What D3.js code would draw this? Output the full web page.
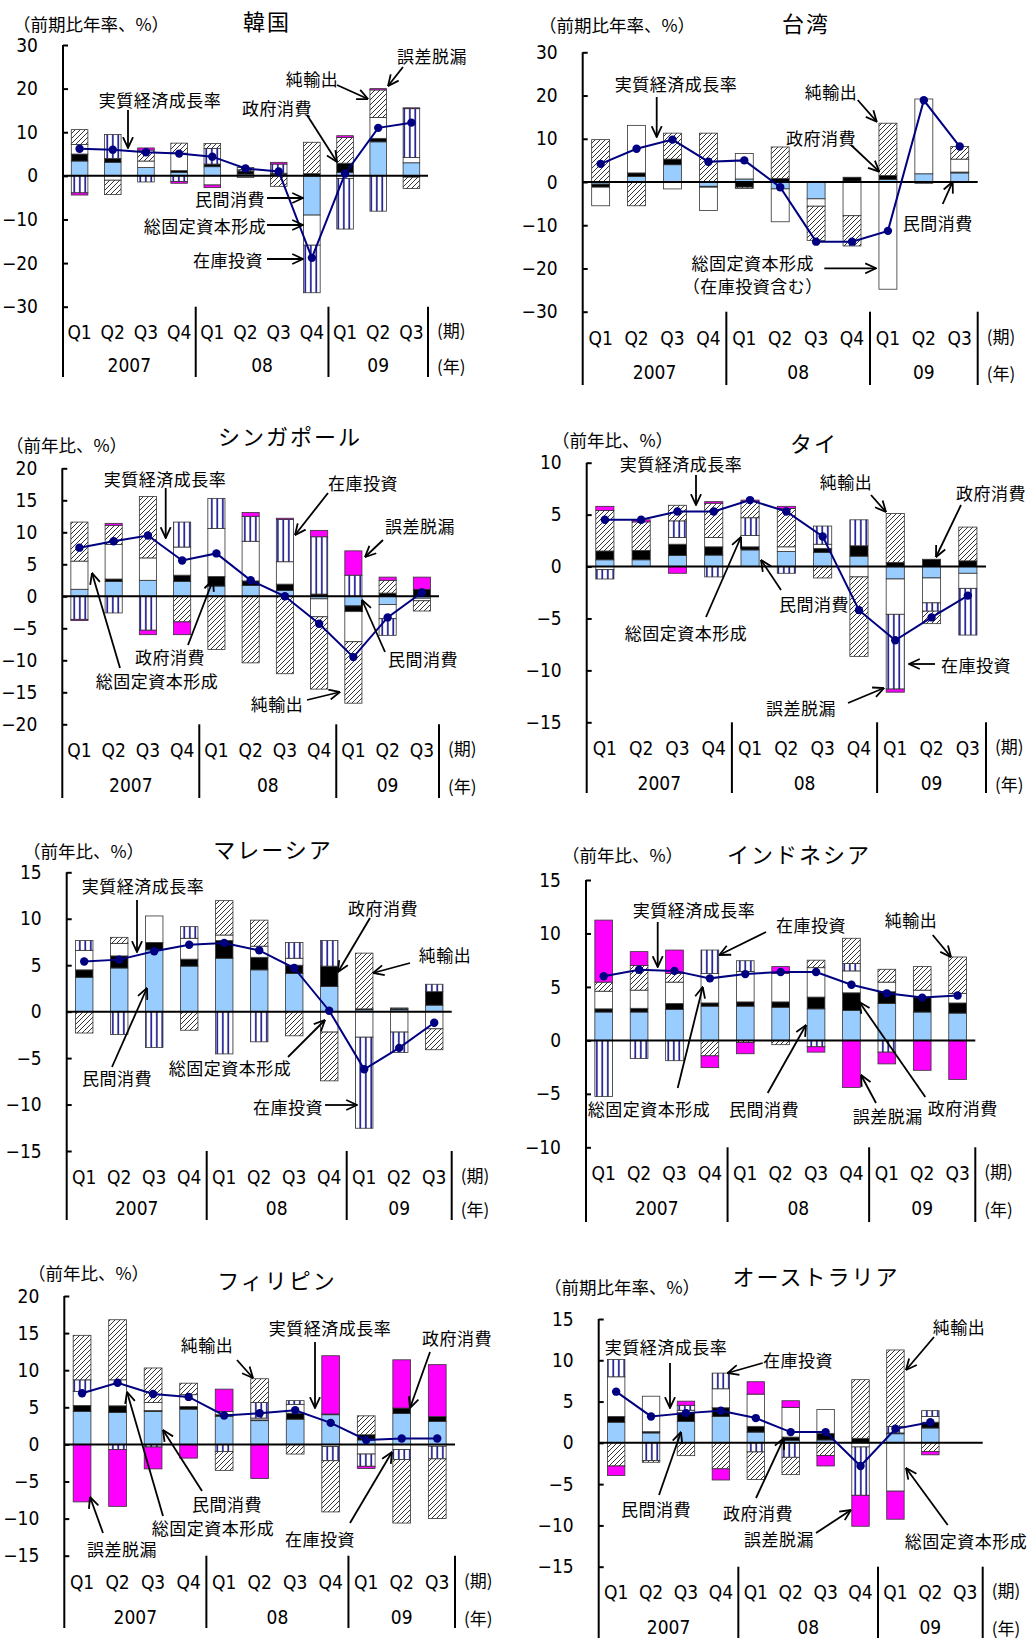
<!DOCTYPE html>
<html><head><meta charset="utf-8">
<script src="https://cdn.jsdelivr.net/npm/d3@7"></script>
<style>
body{margin:0;background:#fff;}
svg text{font-family:"Noto Sans CJK JP","Noto Sans",sans-serif;fill:#000;}
.num{font-family:"Liberation Sans Narrow","DejaVu Sans Condensed","Liberation Sans",sans-serif;}
</style></head><body>
<svg id="chart" width="1032" height="1639"></svg>
<script>
// ---- categories ----
const quarterLabels = ["Q1","Q2","Q3","Q4","Q1","Q2","Q3","Q4","Q1","Q2","Q3"];
const yearLabels = ["2007","08","09"];
const yearSpans = [4,4,3];
const seriesKeys = ["pc","gc","gfcf","inv","nx","err"];
const seriesNames = ["民間消費","政府消費","総固定資本形成","在庫投資","純輸出","誤差脱漏"];

// ---- 韓国 (前期比年率、%) ----
const KR_PC   = [3.4, 3.1, 1.9, 0.8, 2.1, 0.4, 0.3, -9.0, 0.8, 7.8, 3.0];
const KR_GC   = [1.6, 0.9, 0, 0.4, 0.6, 0.7, 0.3, 0.5, 2.1, 0.8, -0.3];
const KR_GFCF = [2.2, -1.0, 1.5, 4.0, -2.1, -0.4, 0, -6.9, -0.6, 4.8, 1.2];
const KR_INV  = [-3.9, 5.5, -1.4, -1.3, 3.6, 0.3, 2.1, -10.9, -11.6, -8.1, 11.2];
const KR_NX   = [3.4, -3.3, 2.5, 2.3, 1.1, 0.5, -2.4, 7.2, 5.9, 6.3, -2.6];
const KR_ERR  = [-0.5, 0, 0.5, -0.4, -0.6, 0, 0.4, 0, 0.4, 0.3, 0.2];
const KR_GDP  = [6.2, 6.0, 5.4, 5.1, 4.4, 1.7, 1.0, -18.8, 0.5, 11.0, 12.2];

// ---- 台湾 (前期比年率、%) ----
const TW_PC   = [-0.5, 1.3, 4.0, -1.0, 0.7, -1.6, -3.9, 0.2, 0.6, 1.9, 2.1];
const TW_GC   = [-0.7, 0.8, 1.3, -0.2, -1.2, 0.8, 0, 0.9, 0.9, 0, 0.2];
const TW_GFCF = [-4.3, 11.0, -1.6, -5.4, 5.9, -7.6, -1.7, -7.8, -24.8, 17.3, 3.0];
const TW_NX   = [9.8, -5.5, 6.0, 11.3, -0.3, 7.3, -7.9, -7.0, 12.1, -0.3, 2.9];
const TW_GDP  = [4.2, 7.7, 9.8, 4.7, 5.0, -1.2, -13.8, -13.8, -11.3, 18.9, 8.2];

// ---- シンガポール (前年比、%) ----
const SG_PC   = [1.1, 2.3, 2.5, 2.3, 1.6, 1.7, 0.9, -0.4, -1.5, -1.3, -0.3];
const SG_GC   = [0, 0.4, 0, 1.0, 1.5, 0.7, 1.0, 0.35, -0.9, 0.5, 1.1];
const SG_GFCF = [4.4, 5.4, 3.5, 4.4, 7.5, 6.2, 3.5, -2.8, -4.7, -2.2, -0.4];
const SG_INV  = [-3.6, -2.6, -5.3, 3.9, 4.7, 3.9, 6.6, 8.95, 3.3, -2.6, 0];
const SG_NX   = [6.1, 3.0, 9.6, -4.0, -8.3, -10.4, -12.1, -11.3, -9.6, 2.0, -1.6];
const SG_ERR  = [-0.2, 0.3, -0.7, -2.0, 0, 0.6, 0.2, 1.0, 3.8, 0.5, 1.9];
const SG_GDP  = [7.6, 8.6, 9.5, 5.6, 6.7, 2.5, 0.0, -4.3, -9.5, -3.3, 0.6];

// ---- タイ (前年比、%) ----
const TH_PC   = [0.65, 0.65, 1.06, 1.1, 1.6, 1.45, 1.35, 1.0, -1.2, -1.1, -0.65];
const TH_GC   = [0.85, 0.9, 1.09, 0.8, 0.3, 0, 0.4, 1.0, 0.4, 0.7, 0.55];
const TH_GFCF = [-0.3, 0, 0.65, 0.9, 1.1, 0.45, 0.4, -1.0, -3.4, -2.4, -1.45];
const TH_INV  = [-0.9, 0, 1.6, -1.0, 1.7, -0.65, 1.75, 2.5, -7.2, -0.8, -4.5];
const TH_NX   = [3.9, 2.75, 1.5, 3.3, 1.55, 3.7, -1.1, -7.65, 4.7, -1.2, 3.25];
const TH_ERR  = [0.4, 0.2, -0.65, 0.15, 0.15, 0.2, 0, 0, -0.3, 0, 0];
const TH_GDP  = [4.5, 4.5, 5.3, 5.3, 6.4, 5.3, 2.9, -4.2, -7.1, -4.9, -2.8];

// ---- マレーシア (前年比、%) ----
const MY_PC   = [3.7, 4.7, 6.65, 4.9, 5.75, 4.5, 4.1, 2.7, 0.2, 0.2, 0.7];
const MY_GC   = [0.8, 1.3, 0.8, 0.75, 1.9, 1.35, 0.9, 2.2, 0.1, 0.15, 1.45];
const MY_GFCF = [2.1, 1.35, 2.85, 2.25, 0.6, 1.2, 0.75, -2.2, -2.75, -2.2, -1.85];
const MY_INV  = [1.05, -2.45, -3.85, 1.25, -4.55, -3.25, 1.7, 2.75, -9.8, -2.2, 0.8];
const MY_NX   = [-2.3, 0.65, 0, -2.0, 3.7, 2.8, -2.6, -5.25, 6.0, 0.05, -2.25];
const MY_GDP  = [5.4, 5.6, 6.5, 7.2, 7.4, 6.6, 4.7, 0.1, -6.2, -3.9, -1.2];

// ---- インドネシア (前年比、%) ----
const ID_PC   = [2.65, 2.65, 2.9, 3.2, 3.2, 3.1, 2.95, 2.8, 3.45, 2.65, 2.55];
const ID_GC   = [0.3, 0.35, 0.55, 0.3, 0.4, 0.5, 1.1, 1.65, 1.1, 1.4, 0.95];
const ID_GFCF = [1.65, 1.7, 2.0, 2.75, 2.85, 2.65, 2.75, 2.05, 0.9, 0.65, 0.9];
const ID_INV  = [-5.25, -1.7, -1.9, 2.2, 1.0, 0, -0.6, 0.7, -1.1, 0, 0];
const ID_NX   = [0.85, 2.3, 0.8, -1.45, -0.2, -0.4, 0.7, 2.35, 1.2, 2.2, 3.4];
const ID_ERR  = [5.8, 1.3, 2.2, -1.1, -1.05, 0.65, -0.5, -4.4, -1.1, -2.8, -3.65];
const ID_GDP  = [6.0, 6.6, 6.5, 5.8, 6.2, 6.4, 6.4, 5.2, 4.4, 4.0, 4.2];

// ---- フィリピン (前年比、%) ----
const PH_PC   = [4.45, 4.3, 4.45, 4.75, 3.8, 3.2, 3.4, 4.0, 0.6, 4.15, 3.1];
const PH_GC   = [0.8, 0.9, 0.1, 0.35, 0.2, 0.1, 0.8, 0.1, 0.7, 0.75, 0.65];
const PH_GFCF = [1.9, 3.5, 1.1, 1.6, 0.45, 0.25, 1.2, -0.3, -1.3, -0.7, -0.25];
const PH_INV  = [1.55, -0.7, -0.35, 0, -0.95, 2.1, 0.5, -1.9, -1.65, -1.35, -1.7];
const PH_NX   = [6.0, 8.1, 4.65, 1.55, -2.55, 3.2, -1.3, -6.9, 2.55, -8.55, -8.05];
const PH_ERR  = [-7.75, -7.65, -2.95, -1.85, 3.0, -4.6, 0, 7.85, -0.3, 6.5, 7.0];
const PH_GDP  = [6.9, 8.3, 6.8, 6.4, 3.9, 4.2, 4.6, 2.9, 0.6, 0.8, 0.8];

// ---- オーストラリア (前期比年率、%) ; 09 Q3 not yet published ----
const AU_PC   = [2.5, 1.2, 2.6, 3.2, 1.3, 0.3, 0.35, 0, 1.1, 1.8, null];
const AU_GC   = [0.7, 0.15, 1.05, 1.05, 0.7, 0.4, 0.8, 0.55, 0.1, 0.7, null];
const AU_GFCF = [4.8, 4.3, 0.3, 2.3, 3.9, 3.6, 2.9, -0.5, -5.85, 0.7, null];
const AU_INV  = [2.1, -2.15, 0.6, 1.9, -1.1, -1.75, 0, -5.85, 0.8, 0.7, null];
const AU_NX   = [-2.8, -0.2, -1.55, -3.15, -3.35, -2.1, -1.55, 7.1, 9.25, -1.05, null];
const AU_ERR  = [-1.15, 0, 0.5, -1.35, 1.5, 0.8, -1.25, -3.75, -3.4, -0.4, null];
const AU_GDP  = [6.2, 3.2, 3.6, 3.9, 3.0, 1.3, 1.3, -2.8, 1.7, 2.5, null];

// ---- styles ----
const fills = {pc:"#99CCFF", gc:"#000000", gfcf:"#FFFFFF", inv:"url(#vstripe)", nx:"url(#hatch)", err:"#FF00FF"};
const NAVY = "#000080";

const UNIT_Q = "（前期比年率、%）";
const UNIT_Y = "（前年比、%）";

const panels = [
  {title:"韓国", unit:UNIT_Q, s:{pc:KR_PC,gc:KR_GC,gfcf:KR_GFCF,inv:KR_INV,nx:KR_NX,err:KR_ERR}, gdp:KR_GDP,
   dom:[-30,30], step:10,
   f:{l:63,r:428,t:45,b:306.7,base:377,qY:332,yrY:365,ux:13,uy:23,tx:267,ty:20},
   notes:[
    {t:"実質経済成長率",x:160,y:99,a:[128,110,128,148]},
    {t:"政府消費",x:277,y:107,a:[307,115,337,162]},
    {t:"純輸出",x:312,y:78,a:[337,85,368,99]},
    {t:"誤差脱漏",x:432,y:55,a:[403,67,388,86]},
    {t:"民間消費",x:230,y:198,a:[267,198,303,198]},
    {t:"総固定資本形成",x:205,y:225,a:[267,225,303,225]},
    {t:"在庫投資",x:228,y:259,a:[267,259,303,259]}]},
  {title:"台湾", unit:UNIT_Q, s:{pc:TW_PC,gc:TW_GC,gfcf:TW_GFCF,nx:TW_NX}, gdp:TW_GDP,
   dom:[-30,30], step:10,
   f:{l:582.7,r:977.7,t:52.3,b:311.7,base:385,qY:338,yrY:372,ux:539,uy:24,tx:806,ty:22},
   notes:[
    {t:"実質経済成長率",x:676,y:83,a:[656.7,97,656.7,137]},
    {t:"純輸出",x:831,y:91,a:[857.7,100,876.7,121.7]},
    {t:"政府消費",x:821,y:137,a:[851,145,879.3,171.7]},
    {t:"民間消費",x:937.7,y:222,a:[942.7,204,952.7,181.7]},
    {t:"総固定資本形成",x:752.7,y:262,a:[824.3,268.3,876,268.3]},
    {t:"（在庫投資含む）",x:752.7,y:285}]},
  {title:"シンガポール", unit:UNIT_Y, s:{pc:SG_PC,gc:SG_GC,gfcf:SG_GFCF,inv:SG_INV,nx:SG_NX,err:SG_ERR}, gdp:SG_GDP,
   dom:[-20,20], step:5,
   f:{l:62.3,r:439,t:468.3,b:724.3,base:798,qY:750,yrY:785,ux:6,uy:444,tx:290,ty:435},
   notes:[
    {t:"実質経済成長率",x:165,y:478,a:[165.7,488,165.7,538]},
    {t:"在庫投資",x:363,y:482,a:[328,493,295,535]},
    {t:"誤差脱漏",x:420,y:525,a:[383,540,365,557]},
    {t:"民間消費",x:423,y:658,a:[385,652,362,600]},
    {t:"純輸出",x:277,y:703,a:[307,700,340,692]},
    {t:"政府消費",x:170,y:656,a:[188,645,213,580]},
    {t:"総固定資本形成",x:157,y:680,a:[120,668,92,573]}]},
  {title:"タイ", unit:UNIT_Y, s:{pc:TH_PC,gc:TH_GC,gfcf:TH_GFCF,inv:TH_INV,nx:TH_NX,err:TH_ERR}, gdp:TH_GDP,
   dom:[-15,10], step:5,
   f:{l:586.7,r:986,t:462.7,b:722.3,base:793,qY:748,yrY:783,ux:552,uy:439,tx:814,ty:442},
   notes:[
    {t:"実質経済成長率",x:681,y:463,a:[696,475,696,505]},
    {t:"純輸出",x:846,y:481,a:[871,495,886,512]},
    {t:"政府消費",x:991,y:492,a:[961,505,936,557]},
    {t:"民間消費",x:814,y:603,a:[781,590,761,560]},
    {t:"総固定資本形成",x:686,y:632,a:[706,617,741,537]},
    {t:"在庫投資",x:976,y:664,a:[935,664,909,664]},
    {t:"誤差脱漏",x:801,y:707,a:[848,703,884,688]}]},
  {title:"マレーシア", unit:UNIT_Y, s:{pc:MY_PC,gc:MY_GC,gfcf:MY_GFCF,inv:MY_INV,nx:MY_NX}, gdp:MY_GDP,
   dom:[-15,15], step:5,
   f:{l:66.7,r:451.7,t:872.3,b:1151,base:1220,qY:1177,yrY:1208,ux:23,uy:850,tx:273,ty:848},
   notes:[
    {t:"実質経済成長率",x:143,y:885,a:[137,900,137,952]},
    {t:"政府消費",x:383,y:907,a:[370,918,338,972]},
    {t:"純輸出",x:445,y:954,a:[410,963,373,973]},
    {t:"民間消費",x:117,y:1077,a:[112,1067,147,988]},
    {t:"総固定資本形成",x:230,y:1067,a:[288,1057,325,1020]},
    {t:"在庫投資",x:288,y:1106,a:[325,1105,357,1105]}]},
  {title:"インドネシア", unit:UNIT_Y, s:{pc:ID_PC,gc:ID_GC,gfcf:ID_GFCF,inv:ID_INV,nx:ID_NX,err:ID_ERR}, gdp:ID_GDP,
   dom:[-10,15], step:5,
   f:{l:586,r:975.3,t:880,b:1147.3,base:1222,qY:1173,yrY:1208,ux:562,uy:854,tx:799,ty:853},
   notes:[
    {t:"実質経済成長率",x:694,y:909,a:[657.7,922,657.7,967]},
    {t:"在庫投資",x:811,y:924,a:[766,932,719.3,955]},
    {t:"純輸出",x:911,y:919,a:[932.7,935,951,957]},
    {t:"総固定資本形成",x:649,y:1108,a:[677.7,1088,702.7,987]},
    {t:"民間消費",x:764,y:1108,a:[767.7,1093,806,1025]},
    {t:"誤差脱漏",x:887.7,y:1115,a:[876,1103,861,1075]},
    {t:"政府消費",x:962.7,y:1107,a:[925.3,1097,859.3,1002]}]},
  {title:"フィリピン", unit:UNIT_Y, s:{pc:PH_PC,gc:PH_GC,gfcf:PH_GFCF,inv:PH_INV,nx:PH_NX,err:PH_ERR}, gdp:PH_GDP,
   dom:[-15,20], step:5,
   f:{l:64.3,r:455,t:1296,b:1555.7,base:1628,qY:1582,yrY:1617,ux:28,uy:1272,tx:277,ty:1279},
   notes:[
    {t:"純輸出",x:207,y:1344,a:[237,1360,253,1378]},
    {t:"実質経済成長率",x:330,y:1327,a:[315,1342,315,1408]},
    {t:"政府消費",x:457,y:1337,a:[430,1352,410,1408]},
    {t:"民間消費",x:227,y:1503,a:[202,1491,163,1430]},
    {t:"総固定資本形成",x:213,y:1527,a:[163,1516,127,1392]},
    {t:"誤差脱漏",x:122,y:1548,a:[103,1533,90,1497]},
    {t:"在庫投資",x:320,y:1538,a:[350,1523,392,1452]}]},
  {title:"オーストラリア", unit:UNIT_Q, s:{pc:AU_PC,gc:AU_GC,gfcf:AU_GFCF,inv:AU_INV,nx:AU_NX,err:AU_ERR}, gdp:AU_GDP,
   dom:[-15,15], step:5,
   f:{l:598.7,r:982.7,t:1319,b:1566.7,base:1638,qY:1592,yrY:1627,ux:544,uy:1286,tx:816,ty:1275},
   notes:[
    {t:"実質経済成長率",x:666,y:1346,a:[670,1363,670,1408]},
    {t:"在庫投資",x:798,y:1359,a:[762.7,1363,727.7,1373]},
    {t:"純輸出",x:959,y:1326,a:[934,1337,906,1370]},
    {t:"民間消費",x:656,y:1508,a:[659,1495,681,1432]},
    {t:"政府消費",x:758,y:1512,a:[756,1498,784,1438]},
    {t:"誤差脱漏",x:779,y:1538,a:[816,1533,851,1510]},
    {t:"総固定資本形成",x:966,y:1540,a:[947.7,1525,906,1468]}]}
];

const svg = d3.select("#chart");
const defs = svg.append("defs");

// diagonal hatch for net exports
const hp = defs.append("pattern").attr("id","hatch").attr("patternUnits","userSpaceOnUse")
  .attr("width",5).attr("height",5);
hp.append("rect").attr("width",5).attr("height",5).attr("fill","#fff");
hp.append("path").attr("d","M-1,1 l2,-2 M0,5 l5,-5 M4,6 l2,-2").attr("stroke","#333").attr("stroke-width",1);

// vertical navy stripes for inventories
const vp = defs.append("pattern").attr("id","vstripe").attr("patternUnits","userSpaceOnUse")
  .attr("width",5.5).attr("height",6);
vp.append("rect").attr("width",5.5).attr("height",6).attr("fill","#fff");
vp.append("rect").attr("x",2).attr("width",1.6).attr("height",6).attr("fill","#10108a");

// open arrow head
defs.append("marker").attr("id","arr").attr("viewBox","0 0 10 10").attr("refX",9.5).attr("refY",5)
  .attr("markerWidth",12).attr("markerHeight",12).attr("markerUnits","userSpaceOnUse").attr("orient","auto")
  .append("path").attr("d","M0.5,0.8 L9.5,5 L0.5,9.2").attr("fill","none").attr("stroke","#000").attr("stroke-width",1.5);

const fmt = d => d < 0 ? "\u2212" + Math.abs(d) : String(d);

panels.forEach(p => {
  const f = p.f;
  const g = svg.append("g");
  const x = d3.scaleBand().domain(d3.range(quarterLabels.length)).range([f.l, f.r])
    .paddingInner(0.5).paddingOuter(0.25);
  const y = d3.scaleLinear().domain(p.dom).range([f.b, f.t]);

  const keys = seriesKeys.filter(k => p.s[k]);
  const rows = quarterLabels.map((q, i) => {
    const r = {i};
    keys.forEach(k => { r[k] = p.s[k][i] == null ? 0 : p.s[k][i]; });
    return r;
  });
  const stacked = d3.stack().keys(keys).offset(d3.stackOffsetDiverging)(rows);

  // stacked contribution bars
  stacked.forEach(layer => {
    g.append("g").selectAll("rect")
      .data(layer.filter(d => d[1] !== d[0] && p.gdp[d.data.i] != null))
      .join("rect")
      .attr("x", d => x(d.data.i))
      .attr("width", x.bandwidth())
      .attr("y", d => y(Math.max(d[0], d[1])))
      .attr("height", d => Math.abs(y(d[0]) - y(d[1])))
      .attr("fill", fills[layer.key])
      .attr("stroke", "#333").attr("stroke-width", 0.8);
  });

  // zero line
  g.append("line").attr("x1", f.l).attr("x2", f.r).attr("y1", y(0)).attr("y2", y(0))
    .attr("stroke", "#000").attr("stroke-width", 2);

  // real GDP growth line
  const pts = p.gdp.map((v, i) => ({v, i})).filter(d => d.v != null);
  g.append("path").datum(pts)
    .attr("d", d3.line().x(d => x(d.i) + x.bandwidth()/2).y(d => y(d.v)))
    .attr("fill", "none").attr("stroke", NAVY).attr("stroke-width", 2);
  g.append("g").selectAll("circle").data(pts).join("circle")
    .attr("cx", d => x(d.i) + x.bandwidth()/2).attr("cy", d => y(d.v)).attr("r", 4.2)
    .attr("fill", NAVY);

  // value axis
  const ax = g.append("g").attr("transform", `translate(${f.l},0)`)
    .call(d3.axisLeft(y).tickValues(d3.range(p.dom[0], p.dom[1] + p.step/2, p.step))
      .tickSize(-5).tickPadding(25).tickFormat(fmt));
  ax.select(".domain").remove();
  ax.selectAll(".tick line").attr("stroke", "#000").attr("stroke-width", 2);
  ax.selectAll(".tick text").attr("class", "num").attr("font-size", 19).attr("font-family", null);
  g.append("line").attr("x1", f.l).attr("x2", f.l).attr("y1", f.t).attr("y2", f.base)
    .attr("stroke", "#000").attr("stroke-width", 2);

  // category axis: quarters and years
  const step = x.step();
  g.append("g").selectAll("text").data(quarterLabels).join("text")
    .attr("class", "num").attr("font-size", 19)
    .attr("x", (d, i) => x(i) + x.bandwidth()/2).attr("y", f.qY)
    .attr("text-anchor", "middle").attr("dominant-baseline", "central").text(d => d);
  let start = 0;
  yearLabels.forEach((yl, j) => {
    const n = yearSpans[j];
    const x0 = f.l + start * step, x1 = f.l + (start + n) * step;
    g.append("text").attr("class", "num").attr("font-size", 19)
      .attr("x", (x0 + x1)/2).attr("y", f.yrY)
      .attr("text-anchor", "middle").attr("dominant-baseline", "central").text(yl);
    g.append("line").attr("x1", x1).attr("x2", x1).attr("y1", f.b).attr("y2", f.base)
      .attr("stroke", "#000").attr("stroke-width", 2);
    start += n;
  });
  g.append("text").attr("x", f.r + 9).attr("y", f.qY - 3).attr("font-size", 17)
    .attr("dominant-baseline", "central").text("(期)");
  g.append("text").attr("x", f.r + 9).attr("y", f.yrY).attr("font-size", 17)
    .attr("dominant-baseline", "central").text("(年)");

  // title and unit
  g.append("text").attr("x", f.tx).attr("y", f.ty).attr("font-size", 22).attr("letter-spacing", 2)
    .attr("text-anchor", "middle").attr("dominant-baseline", "central").text(p.title);
  g.append("text").attr("x", f.ux).attr("y", f.uy).attr("font-size", 17.5)
    .attr("dominant-baseline", "central").text(p.unit);

  // callouts
  p.notes.forEach(n => {
    g.append("text").attr("x", n.x).attr("y", n.y).attr("font-size", 17).attr("letter-spacing", 0.5)
      .attr("text-anchor", "middle").attr("dominant-baseline", "central").text(n.t);
    if (n.a) {
      g.append("line").attr("x1", n.a[0]).attr("y1", n.a[1]).attr("x2", n.a[2]).attr("y2", n.a[3])
        .attr("stroke", "#000").attr("stroke-width", 1.8).attr("marker-end", "url(#arr)");
    }
  });
});
</script>
</body></html>
